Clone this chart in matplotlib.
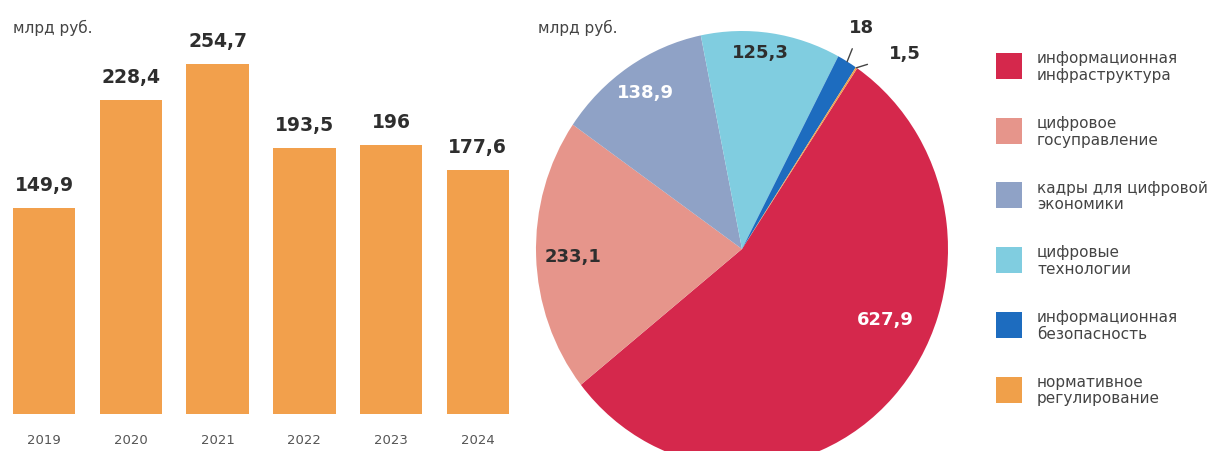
import numpy as np
import matplotlib
matplotlib.use('Agg')
from matplotlib import pyplot as plt
from matplotlib.patches import Rectangle

plt.rcParams['font.family'] = ['DejaVu Sans']

# bar chart data
years = ['2019', '2020', '2021', '2022', '2023', '2024']
totals = [149.9, 228.4, 254.7, 193.5, 196, 177.6]
total_labels = ['149,9', '228,4', '254,7', '193,5', '196', '177,6']

# pie data
parts = ['информационная\nинфраструктура', 'цифровое\nгосуправление',
         'кадры для цифровой\nэкономики', 'цифровые\nтехнологии',
         'информационная\nбезопасность', 'нормативное\nрегулирование']
part_values = [627.9, 233.1, 138.9, 125.3, 18, 1.5]
part_labels = ['627,9', '233,1', '138,9', '125,3', '18', '1,5']

bar_color = '#F2A04C'
pie_colors = ['#D5284C', '#E6958B', '#8FA2C6', '#80CDE0', '#1D6CBF', '#F0A04A']
dark = '#2E2E2E'

W, H = 1211, 452
fig = plt.figure(figsize=(W / 100, H / 100), dpi=100)

def px(x0, y0, x1, y1):
    # pixel box -> figure fraction [left, bottom, width, height]
    return [x0 / W, 1 - y1 / H, (x1 - x0) / W, (y1 - y0) / H]

# ---- bars
ax = fig.add_axes(px(13, 3, 509, 415))
x = np.arange(len(years))
ax.bar(x, totals, width=0.72, color=bar_color)
ax.set_xlim(-0.36, 5.36)
ax.set_ylim(0, 300)
for xi, v, lab in zip(x, totals, total_labels):
    ax.annotate(lab, (xi, v), xytext=(0, 10), textcoords='offset points',
                ha='center', va='bottom', fontsize=13.5, fontweight='bold',
                color=dark)
ax.set_xticks(x)
ax.set_xticklabels(years, fontsize=9.5, color='#555555')
ax.tick_params(axis='x', length=0, pad=14)
ax.set_yticks([])
for s in ax.spines.values():
    s.set_visible(False)

fig.text(13 / W, 1 - 28 / H, 'млрд руб.', fontsize=11, color='#444444',
         va='center')
fig.text(538 / W, 1 - 28 / H, 'млрд руб.', fontsize=11, color='#444444',
         va='center')

# ---- pie
pax = fig.add_axes(px(536, 32, 948, 468))
wedges, _ = pax.pie(part_values, colors=pie_colors, startangle=56,
                    counterclock=False, wedgeprops=dict(linewidth=0))
pax.set_aspect('auto')
pax.set_xlim(-1, 1)
pax.set_ylim(-1, 1)

label_pos = [(0.694, -0.321), (-0.820, -0.032), (-0.471, 0.720),
             (0.087, 0.904), (0.578, 1.020), (0.790, 0.900)]
label_colors = ['white', dark, 'white', dark, dark, dark]
for i, (lab, pos, c) in enumerate(zip(part_labels, label_pos, label_colors)):
    if i < 4:
        pax.text(pos[0], pos[1], lab, ha='center', va='center',
                 fontsize=13, fontweight='bold', color=c)
    else:
        w = wedges[i]
        th = np.deg2rad((w.theta1 + w.theta2) / 2)
        tip = (np.cos(th), np.sin(th))
        shrink = 8 if i == 4 else 14
        pax.annotate(lab, tip, xytext=pos, ha='center', va='center',
                     fontsize=13, fontweight='bold', color=c,
                     annotation_clip=False,
                     arrowprops=dict(arrowstyle='-', color='#444444', lw=1,
                                     shrinkA=shrink, shrinkB=0))

# ---- legend, drawn by hand
for i, (name, c) in enumerate(zip(parts, pie_colors)):
    yc = 67 + 64.7 * i
    fig.add_artist(Rectangle((996 / W, 1 - (yc + 13) / H), 26 / W, 26 / H,
                             transform=fig.transFigure, facecolor=c,
                             edgecolor='none'))
    fig.text(1037 / W, 1 - yc / H, name, fontsize=11, color='#444444',
             va='center', ha='left', linespacing=1.15)

fig.savefig('out.png', dpi=100)
